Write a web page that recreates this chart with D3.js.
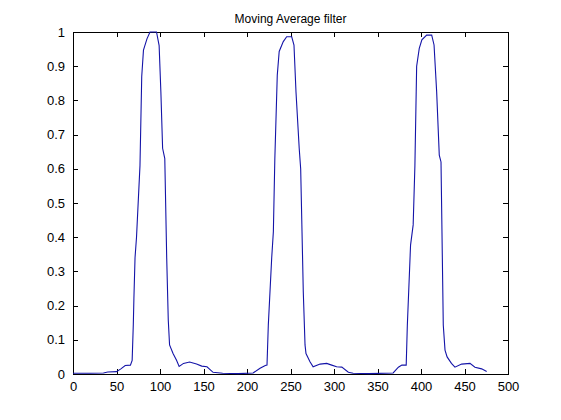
<!DOCTYPE html>
<html>
<head>
<meta charset="utf-8">
<script src="https://cdn.jsdelivr.net/npm/d3@7"></script>
<style>
body { margin: 0; background: #fff; }
text { font-family: "Liberation Sans", Arial, sans-serif; }
</style>
</head>
<body>
<svg id="chart" width="561" height="420"></svg>
<script>
// sample positions and filtered values
var xs = [0, 20, 35, 40, 50, 55, 60, 66, 68, 69.3, 70, 71.3, 73, 77, 79, 81, 85, 88.5, 96, 99,
          101, 103, 105.5, 107.7, 109.5, 111, 115, 119, 122, 127, 134, 142, 148, 154, 161, 172, 190,
          207, 215, 221, 223, 224.5, 228.4, 230.3, 232, 234.8, 237, 241.7, 245.6, 251.4, 254, 256.3,
          260, 261.7, 264.7, 266.7, 267.8, 272.4, 276, 284, 291.6, 297.4, 303, 309, 316.5, 322, 340,
          368, 374, 378, 383, 384.3, 388, 391, 393, 395, 398, 401, 406.5, 412.3, 415, 418, 421, 423,
          425.6, 427.6, 430, 435, 439, 446.7, 456.3, 462, 469.7, 475.5];
var ys = [0.002, 0.002, 0.003, 0.006, 0.007, 0.015, 0.025, 0.026, 0.04, 0.143, 0.22, 0.34, 0.40, 0.61, 0.87, 0.947, 0.98, 1.0, 1.0, 0.96,
          0.825, 0.66, 0.63, 0.34, 0.158, 0.085, 0.06, 0.04, 0.022, 0.031, 0.035, 0.029, 0.023, 0.021, 0.005, 0.002, 0.001,
          0.003, 0.017, 0.025, 0.026, 0.143, 0.34, 0.416, 0.63, 0.874, 0.943, 0.972, 0.986, 0.986, 0.962, 0.825,
          0.66, 0.60, 0.24, 0.085, 0.06, 0.036, 0.021, 0.029, 0.031, 0.026, 0.021, 0.02, 0.005, 0.002, 0.001,
          0.003, 0.02, 0.026, 0.026, 0.143, 0.377, 0.436, 0.61, 0.90, 0.952, 0.977, 0.991, 0.991, 0.962, 0.825, 0.64, 0.62,
          0.143, 0.07, 0.05, 0.031, 0.02, 0.029, 0.031, 0.02, 0.015, 0.007];
var xTicks = [0, 50, 100, 150, 200, 250, 300, 350, 400, 450, 500];
var yTicks = [0, 0.1, 0.2, 0.3, 0.4, 0.5, 0.6, 0.7, 0.8, 0.9, 1];
var title = "Moving Average filter";

// plot box edges (px)
var boxL = 73, boxR = 508, boxT = 32, boxB = 374;
var svg = d3.select("#chart");

var x = d3.scaleLinear().domain([0, 500]).range([boxL, boxR]);
var y = d3.scaleLinear().domain([0, 1]).range([boxB, boxT]);

var fmt = function(d) { return d3.format("~g")(d); };

// axes on all four sides, ticks pointing inward like matlab
svg.append("g").attr("transform", "translate(0," + boxB + ")")
    .call(d3.axisBottom(x).tickValues(xTicks).tickFormat(fmt).tickSizeInner(-5).tickSizeOuter(0).tickPadding(8));
svg.append("g").attr("transform", "translate(0," + boxT + ")")
    .call(d3.axisTop(x).tickValues(xTicks).tickFormat("").tickSizeInner(-5).tickSizeOuter(0));
svg.append("g").attr("transform", "translate(" + boxL + ",0)")
    .call(d3.axisLeft(y).tickValues(yTicks).tickFormat(fmt).tickSizeInner(-5).tickSizeOuter(0).tickPadding(8));
svg.append("g").attr("transform", "translate(" + boxR + ",0)")
    .call(d3.axisRight(y).tickValues(yTicks).tickFormat("").tickSizeInner(-5).tickSizeOuter(0));

svg.selectAll(".domain").attr("stroke", "#000").attr("shape-rendering", "crispEdges");
svg.selectAll(".tick line").attr("stroke", "#000").attr("shape-rendering", "crispEdges");
svg.selectAll(".tick text").attr("font-size", 13).attr("fill", "#000")
    .attr("font-family", "'Liberation Sans', Arial, sans-serif");

var pts = xs.map(function(d, i) { return [d, ys[i]]; });
var line = d3.line().x(function(d) { return x(d[0]); }).y(function(d) { return y(d[1]); });

svg.append("path")
    .datum(pts)
    .attr("d", line)
    .attr("fill", "none")
    .attr("stroke", "#1414a8")
    .attr("stroke-width", 1.1);

svg.append("text")
    .attr("x", (boxL + boxR) / 2)
    .attr("y", 23)
    .attr("text-anchor", "middle")
    .attr("font-size", 12)
    .text(title);
</script>
</body>
</html>
